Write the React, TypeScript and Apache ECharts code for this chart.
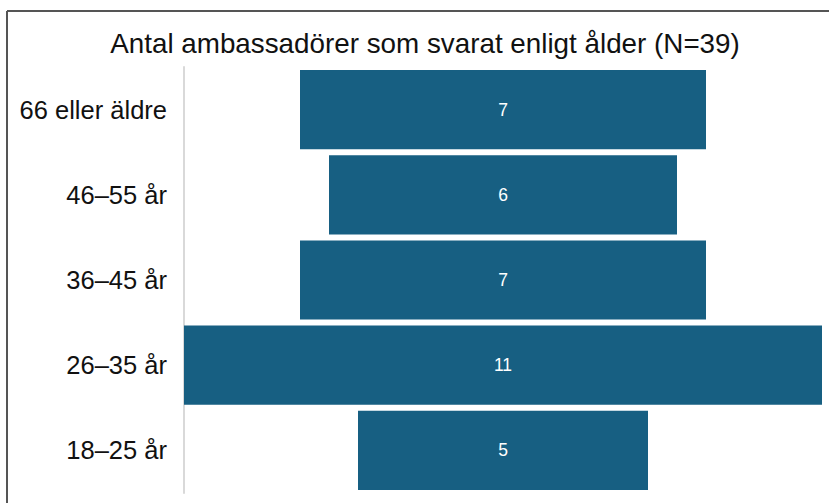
import React, { useEffect, useRef } from "react";
import * as echarts from "echarts";

const categories = ["18–25 år", "26–35 år", "36–45 år", "46–55 år", "66 eller äldre"];
const counts = [5, 11, 7, 6, 7];
const maxCount = 11;
const titleText = "Antal ambassadörer som svarat enligt ålder (N=39)";

export default function App() {
  const ref = useRef<HTMLDivElement>(null);
  useEffect(() => {
    const chart = echarts.init(ref.current!, null, { renderer: "svg" });
    const offsets = counts.map((v) => (maxCount - v) / 2);
    chart.setOption({
      animation: false,
      backgroundColor: "#ffffff",
      title: {
        text: titleText,
        left: 420,
        textAlign: "center",
        top: 24,
        textStyle: { fontFamily: "Liberation Sans, Arial", fontSize: 27.8, fontWeight: "normal", color: "#111" },
      },
      grid: { left: 184, right: 7, top: 67, bottom: 10, containLabel: false },
      xAxis: {
        type: "value",
        min: 0,
        max: maxCount,
        show: false,
      },
      yAxis: {
        type: "category",
        data: categories,
        axisLine: { show: true, lineStyle: { color: "#d9d9d9", width: 2 } },
        axisTick: { show: false },
        axisLabel: {
          margin: 17,
          fontFamily: "Liberation Sans, Arial",
          fontSize: 25.5,
          color: "#111",
        },
      },
      graphic: [
        { type: "line", shape: { x1: 7, y1: 11, x2: 829, y2: 11 }, style: { stroke: "#555", lineWidth: 2 } },
        { type: "line", shape: { x1: 7, y1: 11, x2: 7, y2: 503 }, style: { stroke: "#555", lineWidth: 2 } },
      ],
      series: [
        {
          type: "bar",
          stack: "s",
          data: offsets,
          itemStyle: { color: "transparent" },
          barCategoryGap: "7%",
          silent: true,
        },
        {
          type: "bar",
          stack: "s",
          data: counts,
          itemStyle: { color: "#175f82" },
          barCategoryGap: "7%",
          label: {
            show: true,
            position: "inside",
            color: "#ffffff",
            fontFamily: "Liberation Sans, Arial",
            fontSize: 17.5,
          },
        },
      ],
    });
    return () => chart.dispose();
  }, []);
  return (
    <div
      ref={ref}
      style={{ position: "absolute", left: 0, top: 0, width: 829, height: 503 }}
    />
  );
}
